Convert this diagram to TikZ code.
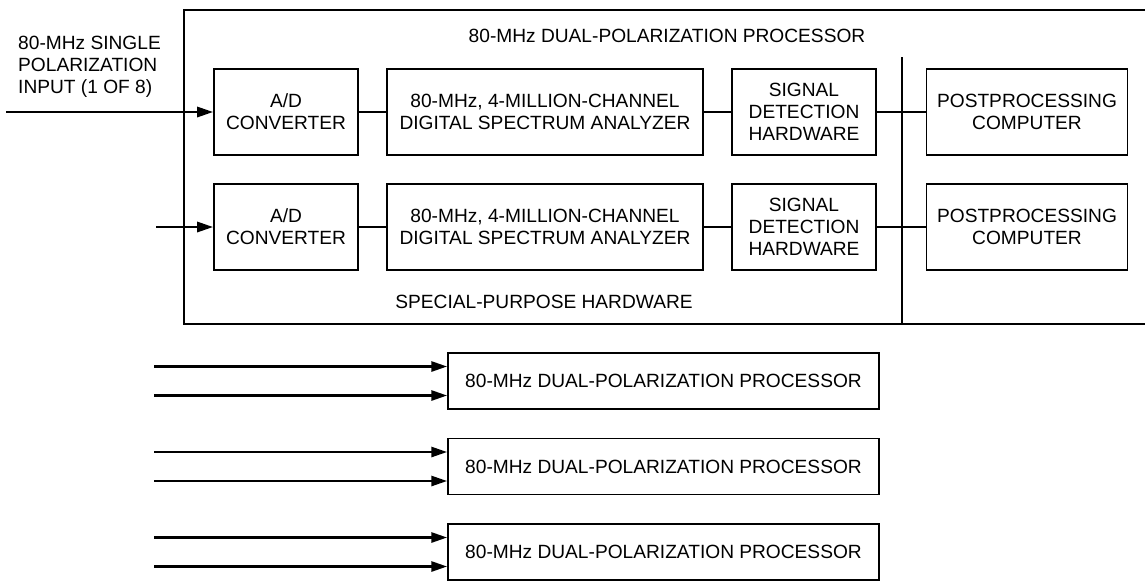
\documentclass[tikz,border=0pt]{standalone}
\usepackage{fontspec}
\setmainfont{Liberation Sans}
\usetikzlibrary{arrows.meta}
\tikzset{
  blk/.style={draw, line width=0.9pt, align=center, inner sep=0pt, minimum height=1.72cm},
  wire/.style={line width=1.6pt},
  feed/.style={wire, -{Triangle[length=0.32cm,width=0.2cm]}}
}

\begin{document}
\begin{tikzpicture}[x=0.02cm,y=-0.02cm,font=\fontsize{10.9}{12.6}\selectfont]
  \useasboundingbox (0,0) rectangle (1145,582);
  \coordinate (tr) at (1145,10);
  \coordinate (tl) at (184,10);
  \coordinate (bl) at (184,324);
  \coordinate (br) at (1145,324);
  \draw[line width=0.9pt] (tr) -- (tl) -- (bl) -- (br);
  \coordinate (dtop) at (902,57);
  \draw[line width=0.9pt] (dtop) -- (dtop |- bl);
  \node (title) at (667,36) {80-MHz DUAL-POLARIZATION PROCESSOR};
  \node (sph) at (544,302) {SPECIAL-PURPOSE HARDWARE};
  \node[anchor=west, align=left] (inlab) at (12,67) {80-MHz SINGLE\\POLARIZATION\\INPUT (1 OF 8)};
  \foreach \r/\y in {1/112,2/227} {
    \node[blk, minimum width=2.88cm] (ad\r) at (286,\y) {A/D\\CONVERTER};
    \node[blk, minimum width=6.32cm] (spec\r) at (545,\y) {80-MHz, 4-MILLION-CHANNEL\\DIGITAL SPECTRUM ANALYZER};
    \node[blk, minimum width=2.88cm] (sd\r) at (804,\y) {SIGNAL\\DETECTION\\HARDWARE};
    \node[blk, minimum width=4.02cm] (pp\r) at (1027,\y) {POSTPROCESSING\\COMPUTER};
    \draw[wire] (ad\r) -- (spec\r);
    \draw[wire] (spec\r) -- (sd\r);
    \draw[wire] (sd\r) -- (pp\r);
  }
  \coordinate (in1) at (6,112);
  \coordinate (in2) at (156,227);
  \draw[feed] (in1) -- (ad1.west);
  \draw[feed] (in2) -- (ad2.west);
  \foreach \i/\y in {1/381,2/466.5,3/552} {
    \node[blk, minimum width=8.62cm, minimum height=1.12cm] (proc\i) at (663.5,\y) {80-MHz DUAL-POLARIZATION PROCESSOR};
    \coordinate (pa\i) at (154,\y-14.5);
    \coordinate (pb\i) at (154,\y+14.5);
    \draw[feed] (pa\i) -- (pa\i -| proc\i.west);
    \draw[feed] (pb\i) -- (pb\i -| proc\i.west);
  }
\end{tikzpicture}
\end{document}
